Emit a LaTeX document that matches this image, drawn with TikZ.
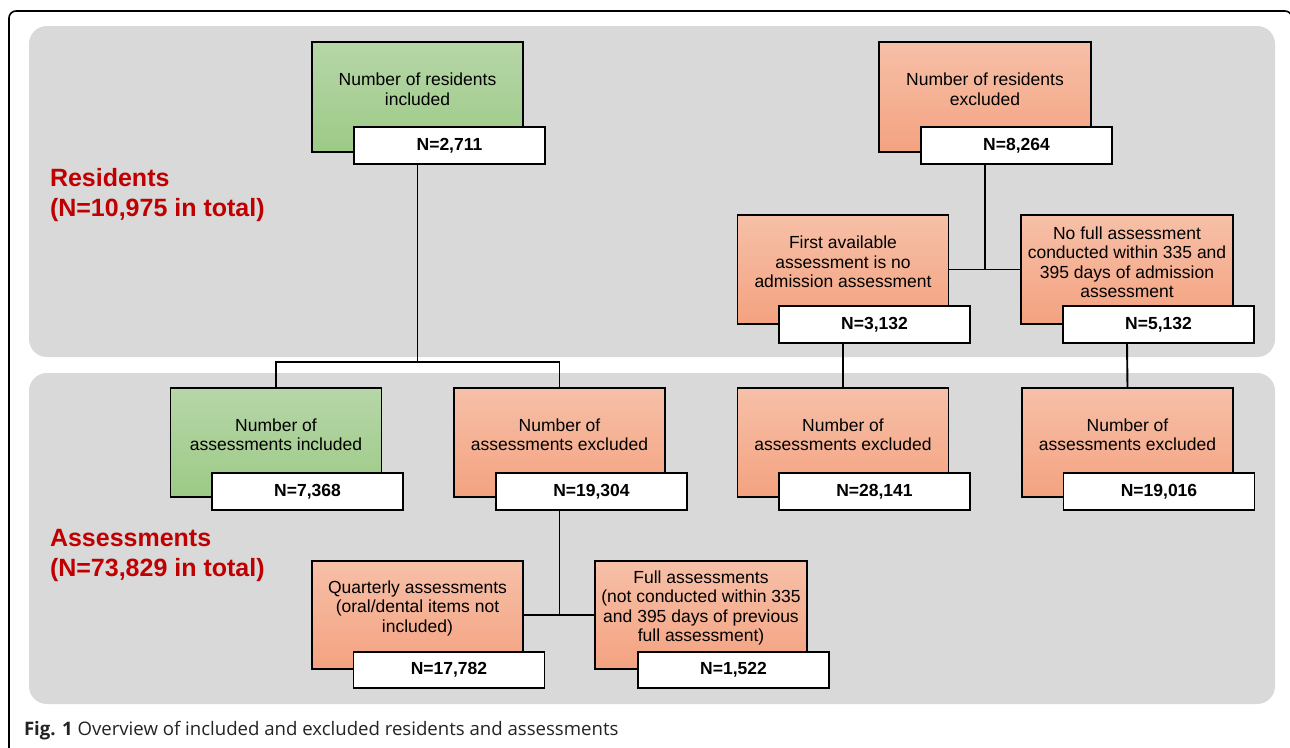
\documentclass[tikz,border=0pt]{standalone}
\usepackage{fontspec}
\setmainfont{Liberation Sans}
\newfontfamily\capfont{Open Sans}
\definecolor{panelgray}{RGB}{217,217,217}
\definecolor{gtop}{RGB}{182,214,168}
\definecolor{gbot}{RGB}{157,202,134}
\definecolor{rtop}{RGB}{246,192,168}
\definecolor{rbot}{RGB}{244,162,128}
\definecolor{labred}{RGB}{192,0,0}
\definecolor{capgray}{RGB}{35,35,35}
\begin{document}
\begin{tikzpicture}[x=1pt,y=-1pt,
  every node/.style={inner sep=0pt,outer sep=0pt},
  cbox/.style={draw=black,line width=1.9pt,minimum width=211pt,minimum height=110pt,shade,top color=rtop,bottom color=rbot},
  gbox/.style={cbox,top color=gtop,bottom color=gbot},
  nbox/.style={draw=black,line width=1.9pt,fill=white,minimum width=191pt,minimum height=37pt,font=\fontsize{17.5}{20}\selectfont\bfseries},
  btext/.style={align=center,font=\fontsize{17.5}{19.5}\selectfont},
  conn/.style={line width=1.9pt,draw=black},
  biglab/.style={anchor=west,align=left,text=labred,font=\fontsize{25}{30}\selectfont\bfseries},
  panel/.style={fill=panelgray,rounded corners=18pt}
]
\useasboundingbox (0,0) rectangle (1290,747);
\clip (0,0) rectangle (1290,747);
\fill[white] (0,0) rectangle (1290,747);
% outer frame
\draw[line width=1.6pt,rounded corners=7pt] (9,760) -- (9,11) -- (1292,11) -- (1292,760);
% panels
\path[panel] (29,26) rectangle (1275,357);
\path[panel] (29,373) rectangle (1275,704);

% section labels
\node[biglab] (lres) at (50,195) {Residents\\(N=10,975 in total)};
\node[biglab] (lass) at (50,555) {Assessments\\(N=73,829 in total)};

% residents row 1
\node[gbox] (r1) at (417.5,97) {};
\node[btext] (r1t) at (417.5,89) {Number of residents\\included};
\node[nbox] (r1n) at (449.5,145.5) {N=2,711};

\node[cbox,minimum width=212pt] (re) at (985,97) {};
\node[btext] (ret) at (985,89) {Number of residents\\excluded};
\node[nbox] (ren) at (1016.5,145.5) {N=8,264};

% residents row 2
\node[cbox,minimum height=109pt] (f1) at (843,269.5) {};
\node[btext] (f1t) at (843,262) {First available\\assessment is no\\admission assessment};
\node[nbox] (f1n) at (874.5,324.5) {N=3,132};

\node[cbox,minimum width=212pt,minimum height=109pt] (f2) at (1127,269.5) {};
\node[btext] (f2t) at (1127,262) {No full assessment\\conducted within 335 and\\395 days of admission\\assessment};
\node[nbox] (f2n) at (1158.5,324.5) {N=5,132};

% assessments row 1
\node[gbox,minimum height=109pt] (a1) at (276,442.5) {};
\node[btext] (a1t) at (276,434.5) {Number of\\assessments included};
\node[nbox] (a1n) at (307.5,491.5) {N=7,368};

\node[cbox,minimum height=109pt] (a2) at (559.5,442.5) {};
\node[btext] (a2t) at (559.5,434.5) {Number of\\assessments excluded};
\node[nbox] (a2n) at (591.5,491.5) {N=19,304};

\node[cbox,minimum height=109pt] (a3) at (843,442.5) {};
\node[btext] (a3t) at (843,434.5) {Number of\\assessments excluded};
\node[nbox] (a3n) at (874.5,491.5) {N=28,141};

\node[cbox,minimum height=109pt] (a4) at (1127.5,442.5) {};
\node[btext] (a4t) at (1127.5,434.5) {Number of\\assessments excluded};
\node[nbox] (a4n) at (1159,491.5) {N=19,016};

% assessments row 2
\node[cbox,minimum height=108pt] (q1) at (417.5,615) {};
\node[btext] (q1t) at (417.5,608) {Quarterly assessments\\(oral/dental items not\\included)};
\node[nbox,minimum height=36pt] (q1n) at (449,670) {N=17,782};

\node[cbox,minimum width=212pt,minimum height=108pt] (q2) at (701,615) {};
\node[btext] (q2t) at (701,608) {Full assessments\\(not conducted within 335\\and 395 days of previous\\full assessment)};
\node[nbox,minimum height=36pt] (q2n) at (733.5,670) {N=1,522};

% connectors
\coordinate (jA) at (417.5,362);
\draw[conn] (r1 |- r1n.south) -- (jA);
\draw[conn] (a1.north) |- (jA) -| (a2.north);
\draw[conn] (re |- ren.south) -- (re |- f1.east);
\draw[conn] (f1.east) -- (f2.west);
\draw[conn] (f1 |- f1n.south) -- (a3.north);
\draw[conn] (f2 |- f2n.south) -- (a4.north);
\draw[conn] (a2 |- a2n.south) -- (a2 |- q1.east);
\draw[conn] (q1.east) -- (q2.west);

% caption
\node[anchor=base west,text=capgray,font=\capfont\fontsize{18.6}{22}\selectfont] (cap) at (24,735) {\textbf{Fig. 1} Overview of included and excluded residents and assessments};
\end{tikzpicture}
\end{document}
